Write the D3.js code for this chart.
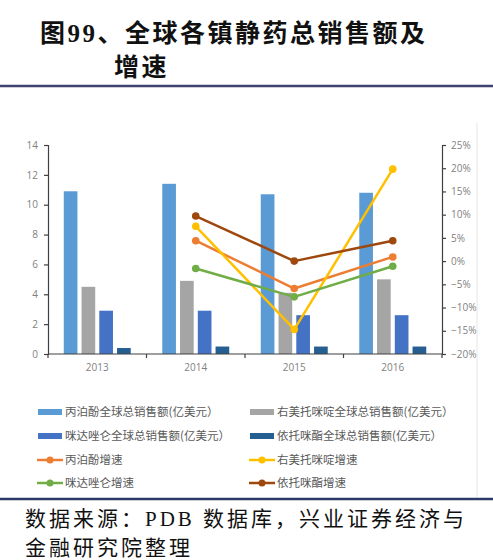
<!DOCTYPE html>
<html>
<head>
<meta charset="utf-8">
<script src="https://cdn.jsdelivr.net/npm/d3@7"></script>
<style>
  body { margin: 0; background: #fff; }
  svg { display: block; }
</style>
</head>
<body>
<div id="chart"></div>
<script>
// data
const years = ["2013", "2014", "2015", "2016"];
const barNames = ["丙泊酚全球总销售额(亿美元）", "右美托咪啶全球总销售额(亿美元）", "咪达唑仑全球总销售额(亿美元）", "依托咪酯全球总销售额(亿美元）"];
const propofolSales = [10.9, 11.4, 10.7, 10.8];
const dexSales      = [4.5, 4.9, 4.1, 5.0];
const midazSales    = [2.9, 2.9, 2.6, 2.6];
const etomSales     = [0.4, 0.5, 0.5, 0.5];

const lineNames = ["丙泊酚增速", "右美托咪啶增速", "咪达唑仑增速", "依托咪酯增速"];
const lineYears = ["2014", "2015", "2016"];
const propofolGrowth = [0.044, -0.059, 0.009];
const dexGrowth      = [0.075, -0.147, 0.198];
const midazGrowth    = [-0.016, -0.077, -0.011];
const etomGrowth     = [0.097, 0.000, 0.044];

const leftTicks  = [0, 2, 4, 6, 8, 10, 12, 14];
const rightTicks = [-0.2, -0.15, -0.1, -0.05, 0, 0.05, 0.1, 0.15, 0.2, 0.25];

const barColors  = ["#5B9BD5", "#A5A5A5", "#4472C4", "#255E91"];
const lineColors = ["#ED7D31", "#FFC000", "#70AD47", "#9E480E"];

const width = 493, height = 560;
const plot = { left: 48, right: 442, top: 145, bottom: 354 };

const svg = d3.select("#chart")
  .append("svg")
  .attr("width", width)
  .attr("height", height);

// title
const title = svg.append("text")
  .attr("font-family", "'Liberation Serif', 'Noto Sans CJK SC', serif")
  .attr("font-weight", "bold")
  .attr("font-size", 25)
  .attr("letter-spacing", 2.5)
  .attr("fill", "#111");
title.append("tspan").attr("x", 40).attr("y", 42).text("图99、全球各镇静药总销售额及");
title.append("tspan").attr("x", 114).attr("y", 76).text("增速");

svg.append("line")
  .attr("x1", 0).attr("x2", width)
  .attr("y1", 86).attr("y2", 86)
  .attr("stroke", "#3c4272")
  .attr("stroke-width", 2.5);

// chart frame edge on the right
svg.append("line")
  .attr("x1", 477).attr("x2", 477)
  .attr("y1", 123).attr("y2", 497)
  .attr("stroke", "#e6e6e6");

// scales
const x0 = d3.scaleBand()
  .domain(years)
  .range([plot.left, plot.right])
  .paddingInner(0.32)
  .paddingOuter(0.16);

const x1 = d3.scaleBand()
  .domain(d3.range(4))
  .range([0, x0.bandwidth()])
  .paddingInner(0.23);

const yLeft = d3.scaleLinear()
  .domain([0, 14])
  .range([plot.bottom, plot.top]);

const yRight = d3.scaleLinear()
  .domain([-0.2, 0.25])
  .range([plot.bottom, plot.top]);

// bars
const barSeries = [propofolSales, dexSales, midazSales, etomSales];
barSeries.forEach((vals, i) => {
  svg.append("g")
    .selectAll("rect")
    .data(vals)
    .join("rect")
      .attr("x", (d, j) => x0(years[j]) + x1(i))
      .attr("y", d => yLeft(d))
      .attr("width", x1.bandwidth())
      .attr("height", d => yLeft(0) - yLeft(d))
      .attr("fill", barColors[i]);
});

// axes
const styleAxis = g => {
  g.select(".domain").attr("stroke", "#404040").attr("stroke-width", 1.2);
  g.selectAll(".tick line").attr("stroke", "#404040").attr("stroke-width", 1.2);
  g.selectAll(".tick text")
    .attr("fill", "#7f7f7f")
    .attr("font-family", "'Open Sans', 'Noto Sans', sans-serif")
    .attr("font-size", 10);
};

svg.append("g")
  .attr("transform", `translate(${plot.left},0)`)
  .call(d3.axisLeft(yLeft).tickValues(leftTicks).tickSize(4).tickSizeOuter(4).tickPadding(6))
  .call(styleAxis);

svg.append("g")
  .attr("transform", `translate(${plot.right},0)`)
  .call(d3.axisRight(yRight).tickValues(rightTicks).tickFormat(d3.format(".0%")).tickSize(4).tickSizeOuter(4).tickPadding(5))
  .call(styleAxis);

const xAxis = svg.append("g")
  .attr("transform", `translate(0,${plot.bottom})`)
  .call(d3.axisBottom(x0).tickSize(0).tickPadding(10))
  .call(styleAxis);
xAxis.select(".domain").attr("d", `M${plot.left},0H${plot.right}`);

// category boundary ticks
const step = x0.step();
const bounds = d3.range(5).map(k => x0(years[0]) - x0.paddingOuter() * step + k * step);
svg.append("g")
  .selectAll("line")
  .data(bounds)
  .join("line")
    .attr("x1", d => d).attr("x2", d => d)
    .attr("y1", plot.bottom).attr("y2", plot.bottom + 4)
    .attr("stroke", "#404040")
    .attr("stroke-width", 1.2);

// growth lines
const lineSeries = [propofolGrowth, dexGrowth, midazGrowth, etomGrowth];
const cx = yr => x0(yr) + x0.bandwidth() / 2;
const lineGen = d3.line()
  .x((d, j) => cx(lineYears[j]))
  .y(d => yRight(d));

lineSeries.forEach((vals, i) => {
  const g = svg.append("g");
  g.append("path")
    .datum(vals)
    .attr("d", lineGen)
    .attr("fill", "none")
    .attr("stroke", lineColors[i])
    .attr("stroke-width", 2.5)
    .attr("stroke-linejoin", "round");
  g.selectAll("circle")
    .data(vals)
    .join("circle")
      .attr("cx", (d, j) => cx(lineYears[j]))
      .attr("cy", d => yRight(d))
      .attr("r", 3.8)
      .attr("fill", lineColors[i]);
});

// legend
const legendFont = "'Noto Sans CJK SC', sans-serif";
const colX = [38, 250];
const rowY = [412, 436, 460, 483];

barNames.forEach((name, i) => {
  const lx = colX[i % 2], ly = rowY[Math.floor(i / 2)];
  svg.append("rect")
    .attr("x", lx).attr("y", ly - 3)
    .attr("width", 24).attr("height", 6)
    .attr("fill", barColors[i]);
  svg.append("text")
    .attr("x", lx + 27).attr("y", ly + 4)
    .attr("font-family", legendFont)
    .attr("font-size", 11.5)
    .attr("fill", "#595959")
    .text(name);
});

lineNames.forEach((name, i) => {
  const lx = colX[i % 2] - 1, ly = rowY[2 + Math.floor(i / 2)];
  svg.append("line")
    .attr("x1", lx).attr("x2", lx + 26)
    .attr("y1", ly).attr("y2", ly)
    .attr("stroke", lineColors[i])
    .attr("stroke-width", 2.5);
  svg.append("circle")
    .attr("cx", lx + 13).attr("cy", ly)
    .attr("r", 3.5)
    .attr("fill", lineColors[i]);
  svg.append("text")
    .attr("x", lx + 28).attr("y", ly + 4)
    .attr("font-family", legendFont)
    .attr("font-size", 11.5)
    .attr("fill", "#595959")
    .text(name);
});

// source footer
svg.append("line")
  .attr("x1", 0).attr("x2", width)
  .attr("y1", 499).attr("y2", 499)
  .attr("stroke", "#2b3a66")
  .attr("stroke-width", 2.5);

const foot = svg.append("text")
  .attr("font-family", "'Liberation Serif', 'Noto Sans CJK SC', serif")
  .attr("font-size", 21)
  .attr("letter-spacing", 3)
  .attr("fill", "#111");
foot.append("tspan").attr("x", 25).attr("y", 526).text("数据来源：PDB 数据库，兴业证券经济与");
foot.append("tspan").attr("x", 25).attr("y", 555).text("金融研究院整理");
</script>
</body>
</html>
